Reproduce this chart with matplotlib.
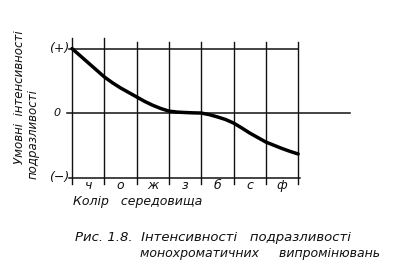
import matplotlib
matplotlib.use("Agg")
import matplotlib.pyplot as plt

# colour names of the medium (first letters)
colours = ['ч', 'о', 'ж', 'з', 'б', 'с', 'ф']
# curve, x in grid units (0..7)
curve_x = [0, 0.25, 0.5, 0.75, 1, 1.25, 1.5, 1.75, 2, 2.25, 2.5, 2.75, 3,
           3.25, 3.5, 3.75, 4, 4.25, 4.5, 4.75, 5, 5.25, 5.5, 5.75, 6,
           6.25, 6.5, 6.75, 7]
curve_y = [1.0, 0.89, 0.78, 0.67, 0.56, 0.47, 0.39, 0.32, 0.25, 0.18, 0.12,
           0.07, 0.03, 0.015, 0.008, 0.003, 0.0, -0.025, -0.06, -0.10,
           -0.155, -0.23, -0.31, -0.38, -0.45, -0.50, -0.55, -0.595, -0.635]
level_labels = ['(+)', '0', '(−)']
level_values = [1, 0, -1]

fig = plt.figure(figsize=(3.93, 2.70), dpi=100)
ax = fig.add_axes([0.1504, 0.2948, 0.748, 0.585])
ax.set_xlim(-0.4, 8.7)
ax.set_ylim(-1.2, 1.25)
ax.axis('off')

ink = '#111111'
# vertical grid lines
for i in range(len(colours) + 1):
    top = 1.17 if i in (0, 1) else 1.1
    ax.plot([i, i], [-1.1, top], color=ink, lw=1.0)
# horizontal levels
ax.plot([-0.1, 7.0], [1, 1], color=ink, lw=1.1)
ax.plot([-0.15, 8.6], [0, 0], color=ink, lw=1.1)
ax.plot([-0.1, 7.05], [-1, -1], color=ink, lw=1.1)

# the curve
ax.plot(curve_x, curve_y, color='black', lw=2.5, solid_capstyle='round',
        solid_joinstyle='round')

font = dict(family='DejaVu Sans', style='italic', color=ink)
for lab, v in zip(level_labels, level_values):
    if lab == '0':
        ax.text(-0.35, v, lab, ha='right', va='center', fontsize=8, **font)
    else:
        ax.text(-0.08, v, lab, ha='right', va='center', fontsize=9, **font)

for i, c in enumerate(colours):
    ax.text(i + 0.5, -1.13, c, ha='center', va='center', fontsize=9, **font)

fig.text(73 / 393, 1 - 201 / 270, 'Колір   середовища', ha='left', va='center',
         fontsize=9, **font)
fig.text(20 / 393, 1 - 97 / 270, 'Умовні  інтенсивності', rotation=90,
         ha='center', va='center', fontsize=8.5, **font)
fig.text(33 / 393, 1 - 134 / 270, 'подразливості', rotation=90,
         ha='center', va='center', fontsize=8.5, **font)

fig.text(75 / 393, 1 - 238 / 270, 'Рис. 1.8.  Інтенсивності   подразливості',
         ha='left', va='center', fontsize=9.5, **font)
fig.text(140 / 393, 1 - 253 / 270, 'монохроматичних     випромінювань',
         ha='left', va='center', fontsize=9, **font)

fig.savefig('out.png', dpi=100)
